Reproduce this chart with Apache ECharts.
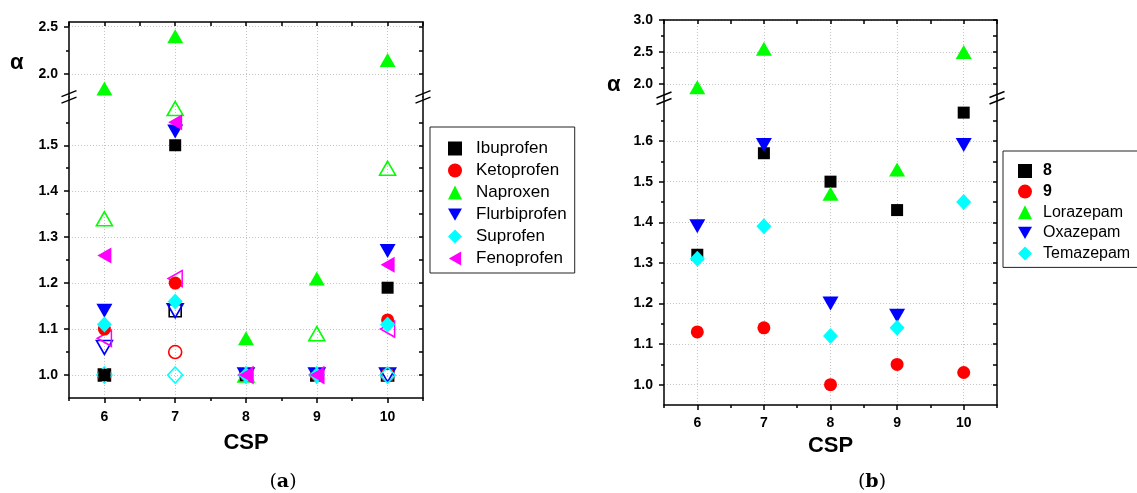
<!DOCTYPE html>
<html><head><meta charset="utf-8">
<script src="https://cdn.jsdelivr.net/npm/echarts@6/dist/echarts.min.js"></script>
<style>html,body{margin:0;padding:0;background:#fff}#c{width:1137px;height:493px}</style>
</head><body><div id="c"></div>
<script>
// ---------- data ----------
const cspValues = [6, 7, 8, 9, 10];
const cspTicks = [6, 7, 8, 9, 10];
const cspMinorTicks = [5.5, 6.5, 7.5, 8.5, 9.5, 10.5];

// Chart (a): filled and open symbols
const aNames = ['Ibuprofen', 'Ketoprofen', 'Naproxen', 'Flurbiprofen', 'Suprofen', 'Fenoprofen'];
const ibuprofenFilled    = [1.00, 1.50, 1.00, 1.00, 1.19];
const ibuprofenOpen      = [1.00, 1.14, 1.00, 1.00, 1.00];
const ketoprofenFilled   = [1.10, 1.20, 1.00, 1.00, 1.12];
const ketoprofenOpen     = [1.00, 1.05, 1.00, 1.00, 1.00];
const naproxenFilled     = [1.85, 2.40, 1.08, 1.21, 2.15];
const naproxenOpen       = [1.34, 1.58, 1.00, 1.09, 1.45];
const flurbiprofenFilled = [1.14, 1.53, 1.00, 1.00, 1.27];
const flurbiprofenOpen   = [1.06, 1.14, 1.00, 1.00, 1.00];
const suprofenFilled     = [1.11, 1.16, 1.00, 1.00, 1.11];
const suprofenOpen       = [1.00, 1.00, 1.00, 1.00, 1.00];
const fenoprofenFilled   = [1.26, 1.55, 1.00, 1.00, 1.24];
const fenoprofenOpen     = [1.08, 1.21, 1.00, 1.00, 1.10];
const aLowerTicks = [1.0, 1.1, 1.2, 1.3, 1.4, 1.5];
const aLowerMinorTicks = [1.05, 1.15, 1.25, 1.35, 1.45, 1.55];
const aUpperTicks = [2.0, 2.5];
const aUpperMinorTicks = [2.25];

// Chart (b)
const bNames = ['8', '9', 'Lorazepam', 'Oxazepam', 'Temazepam'];
const comp8     = [1.32, 1.57, 1.50, 1.43, 1.67];
const comp9     = [1.13, 1.14, 1.00, 1.05, 1.03];
const lorazepam = [1.95, 2.55, 1.47, 1.53, 2.50];
const oxazepam  = [1.39, 1.59, 1.20, 1.17, 1.59];
const temazepam = [1.31, 1.39, 1.12, 1.14, 1.45];
const bLowerTicks = [1.0, 1.1, 1.2, 1.3, 1.4, 1.5, 1.6];
const bLowerMinorTicks = [1.05, 1.15, 1.25, 1.35, 1.45, 1.55, 1.65];
const bUpperTicks = [2.0, 2.5, 3.0];
const bUpperMinorTicks = [2.25, 2.75];

// ---------- layout ----------
const FONT = 'Liberation Sans, Arial, sans-serif';
const grids = [
  {left: 69, right: 714, top: 22, height: 75},   // (a) upper
  {left: 69, right: 714, top: 97, height: 301},  // (a) lower
  {left: 664, right: 140, top: 20, height: 78},  // (b) upper
  {left: 664, right: 140, top: 98, height: 307}  // (b) lower
];
const yRanges = [[1.76, 2.55], [0.95, 1.605], [1.78, 3.0], [0.95, 1.706]];
const yMajor = [aUpperTicks, aLowerTicks, bUpperTicks, bLowerTicks];
const yMinor = [aUpperMinorTicks, aLowerMinorTicks, bUpperMinorTicks, bLowerMinorTicks];
const nameGaps = [0, 34, 0, 28];
const xLabelMargins = [0, 12, 0, 11];

const black = {color: '#000', width: 1.5};
const gridLine = {show: true, lineStyle: {color: '#c4c4c4', width: 1, type: [1, 2]}};
const xAxis = [], yAxis = [];
const mainX = [], mainY = [];

grids.forEach((g, gi) => {
  const upper = gi % 2 === 0;
  const [lo, hi] = yRanges[gi];
  mainX.push(xAxis.length);
  xAxis.push({
    gridIndex: gi, type: 'value', min: 5.5, max: 10.5, position: 'bottom',
    axisLine: {show: !upper, onZero: false, lineStyle: black},
    axisTick: {show: !upper, customValues: cspTicks, length: 5, lineStyle: black},
    axisLabel: {show: !upper, customValues: cspTicks, color: '#000', fontFamily: FONT, fontWeight: 'bold', fontSize: 14, margin: xLabelMargins[gi]},
    splitLine: gridLine,
    name: upper ? '' : 'CSP', nameLocation: 'middle', nameGap: nameGaps[gi],
    nameTextStyle: {color: '#000', fontFamily: FONT, fontWeight: 'bold', fontSize: 22}
  });
  if (!upper) {
    xAxis.push({
      gridIndex: gi, type: 'value', min: 5.5, max: 10.5, position: 'bottom',
      axisLine: {show: false}, axisTick: {customValues: cspMinorTicks, length: 3, lineStyle: black},
      axisLabel: {show: false}, splitLine: {show: false}
    });
  } else {
    xAxis.push({
      gridIndex: gi, type: 'value', min: 5.5, max: 10.5, position: 'top',
      axisLine: {show: true, onZero: false, lineStyle: black},
      axisTick: {inside: true, customValues: cspTicks.concat(cspMinorTicks), length: 4, lineStyle: black},
      axisLabel: {show: false}, splitLine: {show: false}
    });
  }
  mainY.push(yAxis.length);
  yAxis.push({
    gridIndex: gi, type: 'value', min: lo, max: hi, position: 'left',
    axisLine: {show: true, onZero: false, lineStyle: black},
    axisTick: {customValues: yMajor[gi], length: 5, lineStyle: black},
    axisLabel: {customValues: yMajor[gi], formatter: v => v.toFixed(1), color: '#000', fontFamily: FONT, fontWeight: 'bold', fontSize: 14, margin: 11},
    splitLine: gridLine
  });
  yAxis.push({
    gridIndex: gi, type: 'value', min: lo, max: hi, position: 'left',
    axisLine: {show: false}, axisTick: {customValues: yMinor[gi], length: 3, lineStyle: black},
    axisLabel: {show: false}, splitLine: {show: false}
  });
  yAxis.push({
    gridIndex: gi, type: 'value', min: lo, max: hi, position: 'right',
    axisLine: {show: true, onZero: false, lineStyle: black},
    axisTick: {inside: true, customValues: yMajor[gi].concat(yMinor[gi]), length: 4, lineStyle: black},
    axisLabel: {show: false}, splitLine: {show: false}
  });
});

// ---------- series ----------
const SYM = {
  square:   {symbol: 'rect', symbolSize: 12, symbolRotate: 0},
  circle:   {symbol: 'circle', symbolSize: 13, symbolRotate: 0},
  up:       {symbol: 'triangle', symbolSize: [16, 14], symbolRotate: 0},
  down:     {symbol: 'triangle', symbolSize: [16, 14], symbolRotate: 180},
  diamond:  {symbol: 'diamond', symbolSize: [15, 16], symbolRotate: 0},
  left:     {symbol: 'triangle', symbolSize: [16, 14], symbolRotate: 90}
};
const LEGEND_ICON = {
  square: 'rect', circle: 'circle', up: 'triangle', diamond: 'diamond',
  down: 'path://M0,0L16,0L8,14Z', left: 'path://M0,8L14,0L14,16Z'
};
function pts(vals, lo, hi) {
  return cspValues.map((x, i) => [x, vals[i]]).filter(p => p[1] >= lo && p[1] <= hi);
}
const series = [];
function addSeries(name, vals, shape, color, open, gUpper, gLower) {
  [gUpper, gLower].forEach(gi => {
    const [lo, hi] = yRanges[gi];
    const data = pts(vals, lo, hi);
    if (!data.length) return;
    series.push(Object.assign({
      type: 'scatter', name: name, xAxisIndex: mainX[gi], yAxisIndex: mainY[gi],
      data: data, silent: true, z: open ? 3 : 4,
      itemStyle: open ? {color: 'rgba(0,0,0,0)', borderColor: color, borderWidth: 1.6, opacity: 1}
                      : {color: color, borderWidth: 0, opacity: 1},
      emphasis: {disabled: true}
    }, SYM[shape]));
  });
}
// (a) open first, filled on top
addSeries('Ibuprofen open', ibuprofenOpen, 'square', '#000000', true, 0, 1);
addSeries('Ketoprofen open', ketoprofenOpen, 'circle', '#ff0000', true, 0, 1);
addSeries('Naproxen open', naproxenOpen, 'up', '#00ff00', true, 0, 1);
addSeries('Flurbiprofen open', flurbiprofenOpen, 'down', '#0000ff', true, 0, 1);
addSeries('Suprofen open', suprofenOpen, 'diamond', '#00ffff', true, 0, 1);
addSeries('Fenoprofen open', fenoprofenOpen, 'left', '#ff00ff', true, 0, 1);
addSeries('Ibuprofen', ibuprofenFilled, 'square', '#000000', false, 0, 1);
addSeries('Ketoprofen', ketoprofenFilled, 'circle', '#ff0000', false, 0, 1);
addSeries('Naproxen', naproxenFilled, 'up', '#00ff00', false, 0, 1);
addSeries('Flurbiprofen', flurbiprofenFilled, 'down', '#0000ff', false, 0, 1);
addSeries('Suprofen', suprofenFilled, 'diamond', '#00ffff', false, 0, 1);
addSeries('Fenoprofen', fenoprofenFilled, 'left', '#ff00ff', false, 0, 1);
// (b)
addSeries('8', comp8, 'square', '#000000', false, 2, 3);
addSeries('9', comp9, 'circle', '#ff0000', false, 2, 3);
addSeries('Lorazepam', lorazepam, 'up', '#00ff00', false, 2, 3);
addSeries('Oxazepam', oxazepam, 'down', '#0000ff', false, 2, 3);
addSeries('Temazepam', temazepam, 'diamond', '#00ffff', false, 2, 3);

const aShapes = ['square', 'circle', 'up', 'down', 'diamond', 'left'];
const bShapes = ['square', 'circle', 'up', 'down', 'diamond'];

// ---------- break marks ----------
function breakMark(x, y) {
  const s = {stroke: '#000', lineWidth: 1.4};
  return [
    {type: 'line', shape: {x1: x - 7.5, y1: y + 0, x2: x + 7.5, y2: y - 6}, style: s, z: 100},
    {type: 'line', shape: {x1: x - 7.5, y1: y + 6.5, x2: x + 7.5, y2: y + 0.5}, style: s, z: 100}
  ];
}
const graphics = [].concat(
  breakMark(69, 96.7), breakMark(423, 96.7), breakMark(664, 98), breakMark(997, 97.5),
  [
    {type: 'text', left: 10, top: 52, style: {text: 'α', font: 'bold 22px ' + FONT, fill: '#000'}},
    {type: 'text', left: 607, top: 74, style: {text: 'α', font: 'bold 22px ' + FONT, fill: '#000'}},
    {type: 'text', x: 283, y: 482, style: {text: '({b|a})', align: 'center', verticalAlign: 'middle',
      font: '19px DejaVu Serif', fill: '#000', rich: {b: {fontWeight: 'bold', fontSize: 19, fontFamily: 'DejaVu Serif'}}}},
    {type: 'text', x: 872, y: 482, style: {text: '({b|b})', align: 'center', verticalAlign: 'middle',
      font: '19px DejaVu Serif', fill: '#000', rich: {b: {fontWeight: 'bold', fontSize: 19, fontFamily: 'DejaVu Serif'}}}}
  ]
);

const option = {
  animation: false,
  grid: grids,
  xAxis: xAxis,
  yAxis: yAxis,
  legend: [
    {
      data: aNames.map((n, i) => ({name: n, icon: LEGEND_ICON[aShapes[i]]})),
      orient: 'vertical', left: 430, top: 127,
      padding: [13, 8, 6, 18], itemWidth: 14, itemHeight: 14, itemGap: 5,
      borderColor: '#222', borderWidth: 1, selectedMode: false,
      itemStyle: {opacity: 1, borderWidth: 0},
      textStyle: {fontFamily: FONT, fontSize: 17, lineHeight: 17, color: '#000', padding: [0, 0, 0, 9]}
    },
    {
      data: bNames.map((n, i) => ({name: n, icon: LEGEND_ICON[bShapes[i]]})),
      orient: 'vertical', left: 1003, top: 151,
      padding: [12, 8, 6, 15], itemWidth: 14, itemHeight: 14, itemGap: 4.6,
      borderColor: '#222', borderWidth: 1, selectedMode: false,
      itemStyle: {opacity: 1, borderWidth: 0},
      textStyle: {fontFamily: FONT, fontSize: 16, lineHeight: 16, color: '#000', padding: [0, 0, 0, 6]},
      formatter: n => (n === '8' || n === '9') ? '{b|' + n + '}' : n
    }
  ],
  series: series,
  graphic: graphics
};
option.legend[1].textStyle.rich = {b: {fontFamily: FONT, fontSize: 16, fontWeight: 'bold', color: '#000'}};
const chart = echarts.init(document.getElementById('c'), null, {renderer: 'canvas'});
chart.setOption(option);
</script>
</body></html>
